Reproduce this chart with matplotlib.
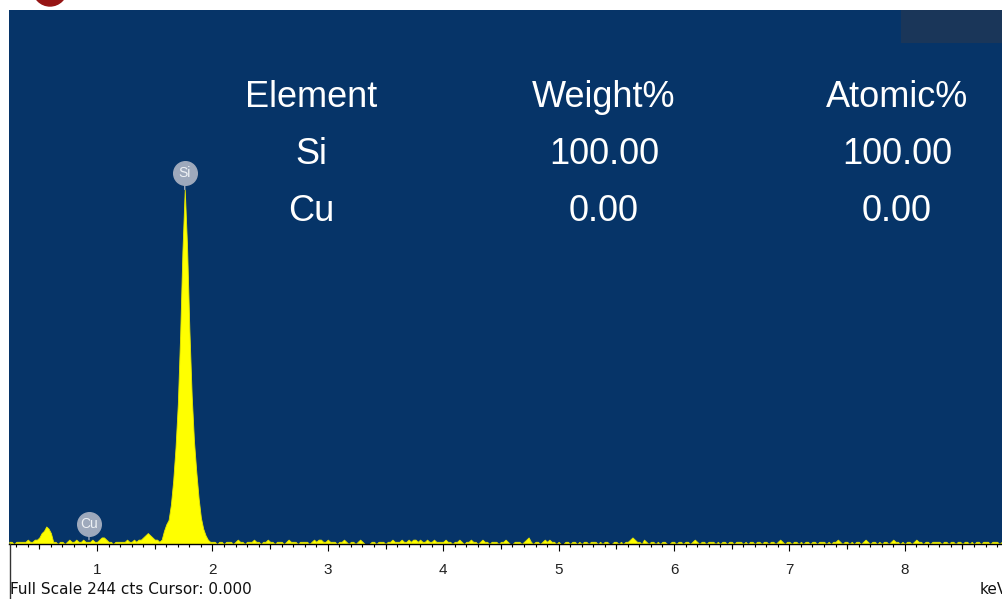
import numpy as np
import matplotlib
matplotlib.use('Agg')
import matplotlib.pyplot as plt
from matplotlib.patches import Circle, Rectangle
from matplotlib.lines import Line2D
from matplotlib.ticker import MultipleLocator
import matplotlib.transforms as mtransforms

plt.rcParams['font.family'] = ['Liberation Sans', 'DejaVu Sans']

# spectrum: counts per 0.02 keV channel, starting at 0.24 keV
e_start = 0.24
e_step = 0.02
counts = [
    1, 1, 0, 1, 1, 1, 1, 1, 2, 1, 1, 2, 2, 3, 5, 6, 8, 7, 5, 1,
    1, 0, 1, 1, 0, 1, 2, 1, 1, 2, 1, 1, 2, 1, 1, 1, 2, 1, 1, 2,
    3, 3, 2, 1, 1, 0, 1, 1, 1, 1, 1, 2, 1, 1, 2, 1, 2, 2, 3, 4,
    5, 4, 3, 2, 2, 1, 2, 6, 9, 11, 18, 29, 44, 64, 95, 134, 162, 136, 98, 68,
    47, 33, 21, 12, 7, 4, 2, 1,
    1, 1, 0, 1, 1, 0, 1, 1, 1, 0, 1, 2, 1, 1, 0, 1, 1, 1, 2, 1,
    1, 0, 1, 1, 2, 1, 1, 0, 1, 1, 1, 0, 1, 2, 1, 1, 1, 0, 1, 1,
    1, 1, 0, 1, 2, 1, 2, 2, 1, 1, 2, 1, 1, 1, 0, 1, 1, 2, 1, 0,
    1, 1, 0, 1, 2, 1, 0, 0, 0, 1, 1, 0, 1, 1, 1, 0, 1, 1, 2, 1,
    1, 1, 2, 1, 1, 2, 1, 2, 2, 1, 2, 1, 1, 2, 1, 1, 2, 1, 1, 1,
    1, 2, 1, 1, 0, 1, 1, 2, 1, 0, 1, 1, 2, 1, 1, 0, 1, 2, 1, 1,
    0, 1, 1, 1, 0, 1, 1, 2, 1, 0, 0, 1, 1, 1, 0, 1, 2, 3, 1, 0,
    1, 1, 0, 1, 2, 1, 2, 1, 1, 0, 1, 0, 0, 1, 1, 0, 1, 1, 0, 1,
    0, 1, 1, 0, 1, 1, 1, 0, 1, 0, 1, 1, 0, 0, 1, 1, 0, 1, 0, 1,
    1, 2, 3, 2, 1, 1, 0, 2, 1, 0, 1, 1, 0, 1, 0, 1, 1, 0, 0, 1,
    1, 0, 1, 1, 0, 1, 1, 0, 1, 2, 1, 0, 1, 1, 0, 1, 1, 1, 0, 1,
    0, 1, 1, 0, 1, 1, 0, 1, 1, 1, 0, 1, 0, 1, 1, 0, 1, 1, 0, 1,
    1, 0, 1, 1, 0, 1, 2, 1, 0, 1, 1, 0, 1, 1, 0, 1, 0, 1, 1, 0,
    1, 1, 0, 1, 1, 1, 0, 1, 0, 1, 1, 2, 1, 0, 1, 1, 0, 1, 0, 1,
    1, 0, 1, 2, 1, 0, 1, 1, 0, 1, 0, 1, 1, 0, 1, 2, 1, 1, 0, 1,
    0, 1, 1, 0, 1, 2, 1, 1, 0, 1, 1, 0, 1, 1, 1, 1, 0, 1, 1, 0,
    1, 1, 0, 1, 1, 0, 1, 1, 0, 1, 0, 1, 1, 0, 1, 1, 1, 0, 1, 1,
    1, 0, 1,
]
energy = e_start + e_step * np.arange(len(counts))

full_scale = 244
cursor = 0.000
x_range = (0.237, 8.851)

peak_names = ['Si', 'Cu']
peak_energy = [1.76, 0.93]

elements = ['Si', 'Cu']
weight_pct = [100.00, 0.00]
atomic_pct = [100.00, 0.00]
headers = ['Element', 'Weight%', 'Atomic%']

W, H = 1003, 599
bg = '#063468'
label_gray = '#9ea9bc'

fig = plt.figure(figsize=(W / 100, H / 100), dpi=100)
fig.patch.set_facecolor('white')
ax = fig.add_axes([9 / W, 55 / H, 994 / W, 534 / H])
ax.set_facecolor(bg)

ax.fill_between(energy, counts, color='#ffff00', lw=0.6, edgecolor='#e6e600')
ax.set_xlim(*x_range)
ax.set_ylim(0, full_scale)

for s in ['left', 'right', 'top']:
    ax.spines[s].set_visible(False)
ax.spines['bottom'].set_color('black')
ax.spines['bottom'].set_linewidth(1)
ax.set_yticks([])
ax.set_xticks(range(1, 9))
ax.xaxis.set_minor_locator(MultipleLocator(0.1))
ax.tick_params(axis='x', which='major', length=5, width=0.8, color='black',
               pad=8.5, labelsize=11, labelcolor='#222222')
ax.tick_params(axis='x', which='minor', length=2.3, width=0.8, color='black')
halfs = np.arange(0.5, 8.6, 1.0)
ax.vlines(halfs, -4.5 / 534, 0, transform=ax.get_xaxis_transform(),
          color='black', lw=0.8, clip_on=False)

# peak markers
circ_tr = mtransforms.offset_copy(ax.transData, fig=fig, x=0, y=16, units='dots')
for name, e in zip(peak_names, peak_energy):
    near = (energy > e - 0.045) & (energy < e + 0.045)
    top = max(np.array(counts)[near])
    ax.annotate('', xy=(e, top), xytext=(0, 10), textcoords='offset points',
                arrowprops=dict(arrowstyle='-', color=label_gray, lw=1,
                                shrinkA=0, shrinkB=0))
    ax.plot(e, top, 'o', ms=17, color=label_gray, mec=label_gray,
            transform=circ_tr)
    ax.text(e, top, name, transform=circ_tr, ha='center', va='center',
            color='#eef1f5', fontsize=10)

# quant table
col_x = [311, 604, 897]
row_base = [107, 164, 221]
for x, h in zip(col_x, headers):
    fig.text(x / W, 1 - row_base[0] / H, h, ha='center', va='baseline',
             color='white', fontsize=26)
for i, el in enumerate(elements):
    y = 1 - row_base[i + 1] / H
    fig.text(col_x[0] / W, y, el, ha='center', va='baseline', color='white', fontsize=26)
    fig.text(col_x[1] / W, y, '%.2f' % weight_pct[i], ha='center', va='baseline',
             color='white', fontsize=26)
    fig.text(col_x[2] / W, y, '%.2f' % atomic_pct[i], ha='center', va='baseline',
             color='white', fontsize=26)

# status line
fig.text(10 / W, 5 / H, 'Full Scale %d cts Cursor: %.3f' % (full_scale, cursor),
         fontsize=11, color='#111111', va='baseline', family='DejaVu Sans')
fig.text(980 / W, 5 / H, 'keV', fontsize=11, color='#111111', va='baseline',
         family='DejaVu Sans')

# decorations around the frame
px = mtransforms.IdentityTransform()
fig.add_artist(Circle((50, H + 11), 17, transform=px, color='#951414', zorder=5))
fig.add_artist(Rectangle((901, H - 43), 102, 33, transform=px, color='#1a3659',
                         lw=0, zorder=5))
fig.add_artist(Line2D([9.5, 9.5], [0, 55], transform=px, color='#333333', lw=1))

fig.savefig('out.png', dpi=100, facecolor='white')
